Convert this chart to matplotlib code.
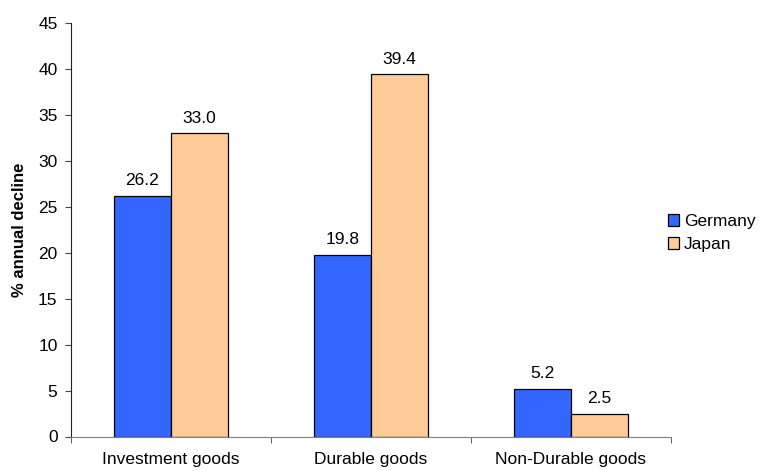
import numpy as np
import matplotlib
matplotlib.use('Agg')
import matplotlib.pyplot as plt

plt.rcParams['font.family'] = ['Liberation Sans', 'DejaVu Sans']

# data
categories = ['Investment goods', 'Durable goods', 'Non-Durable goods']
germany = [26.2, 19.8, 5.2]
japan = [33.0, 39.4, 2.5]
series_names = ['Germany', 'Japan']
colors = ['#3366FF', '#FFCC99']

fs = 12.5

fig = plt.figure(figsize=(7.63, 4.71), dpi=100)
ax = fig.add_axes([70.7 / 763, 34.5 / 471, 600 / 763, 413.5 / 471])

x = np.arange(len(categories))
w = 0.2857
bars = []
for i, (vals, name, c) in enumerate(zip([germany, japan], series_names, colors)):
    b = ax.bar(x + (i - 0.5) * w, vals, w, color=c, edgecolor='black',
               linewidth=0.9, label=name)
    bars.append(b)
    for rect, v in zip(b, vals):
        ax.annotate('%.1f' % v, (rect.get_x() + rect.get_width() / 2, v),
                    xytext=(0, 5.5), textcoords='offset points',
                    ha='center', va='bottom', fontsize=fs)

ax.set_xlim(-0.5, len(categories) - 0.5)
ax.set_ylim(0, 45)
ax.set_yticks(np.arange(0, 46, 5))
ax.set_xticks(x)
ax.set_xticklabels(categories, fontsize=fs)
ax.set_xticks(np.arange(-0.5, len(categories), 1), minor=True)
ax.tick_params(axis='x', which='major', length=0, pad=11)
ax.tick_params(axis='x', which='minor', length=4.5, color='#444444', direction='out')
ax.tick_params(axis='y', length=4.5, color='#444444', labelsize=fs, direction='out', pad=5)

for s in ['top', 'right']:
    ax.spines[s].set_visible(False)
ax.spines['bottom'].set_color('#808080')
ax.spines['left'].set_color('#222222')

ax.set_ylabel('% annual decline', fontsize=12, fontweight='bold', labelpad=8)

fig.legend(handles=bars, labels=series_names, loc='center left',
           bbox_to_anchor=(0.875, 0.505), frameon=False, fontsize=fs,
           handlelength=0.65, handleheight=0.65, handletextpad=0.3,
           labelspacing=0.45, borderpad=0, borderaxespad=0)

fig.savefig('out.png', dpi=100)
